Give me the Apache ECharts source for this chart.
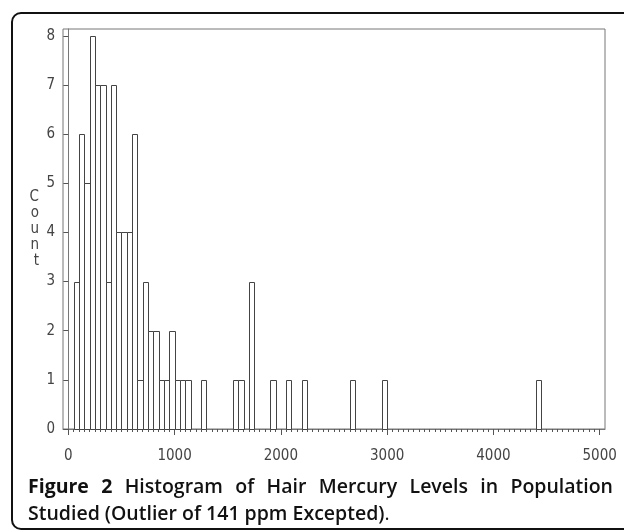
<!DOCTYPE html>
<html>
<head>
<meta charset="utf-8">
<script src="https://cdn.jsdelivr.net/npm/echarts@6/dist/echarts.min.js"></script>
<style>
  html, body { margin: 0; padding: 0; background: #fff; }
  #main { width: 624px; height: 531px; }
</style>
</head>
<body>
<div id="main"></div>
<script>
// bin lower edges, every bin is 50 wide
var BIN_WIDTH = 50;
var binStarts = [50, 100, 150, 200, 250, 300, 350, 400, 450, 500, 550,
                 600, 650, 700, 750, 800, 850, 900, 950, 1000, 1050, 1100,
                 1250, 1550, 1600, 1700, 1900, 2050, 2200, 2650, 2950, 4400];
var counts = [3, 6, 5, 8, 7, 7, 3, 7, 4, 4, 4,
              6, 1, 3, 2, 2, 1, 1, 2, 1, 1, 1,
              1, 1, 1, 3, 1, 1, 1, 1, 1, 1];
var xTickLabels = [0, 1000, 2000, 3000, 4000, 5000];
var yTickLabels = [0, 1, 2, 3, 4, 5, 6, 7, 8];

var captionLine1 = ['Figure', '2', 'Histogram', 'of', 'Hair', 'Mercury', 'Levels', 'in', 'Population'];
var captionLine2 = 'Studied (Outlier of 141 ppm Excepted)';

var TICK_FONT = '"Liberation Sans Narrow", "DejaVu Sans Condensed", sans-serif';
var CAP_FONT = '"Open Sans", "Noto Sans", sans-serif';

// minor ticks every bin
var minorTicks = [];
for (var v = 0; v <= 5000; v += BIN_WIDTH) minorTicks.push(v);

var histData = binStarts.map(function (s, i) { return [s, counts[i]]; });

var myChart = echarts.init(document.getElementById('main'));

// justified first caption line: measure words, spread the gaps
var measure = document.createElement('canvas').getContext('2d');
var capLeft = 28, capRight = 613, capSize = 19.5;
var wordFont = function (i) { return (i < 2 ? '700 ' : '600 ') + capSize + 'px ' + CAP_FONT; };
var widths = captionLine1.map(function (w, i) {
    measure.font = wordFont(i);
    return measure.measureText(w).width;
});
var total = widths.reduce(function (a, b) { return a + b; }, 0);
var gap = (capRight - capLeft - total) / (captionLine1.length - 1);
var captionEls = [];
var cx = capLeft;
captionLine1.forEach(function (w, i) {
    captionEls.push({
        type: 'text', left: cx, top: 477,
        style: { text: w, font: wordFont(i), fill: '#111' }
    });
    cx += widths[i] + gap;
});
captionEls.push({
    type: 'text', left: capLeft, top: 504,
    style: {
        text: '{b|' + captionLine2 + '}{r|.}',
        rich: {
            b: { font: '600 ' + capSize + 'px ' + CAP_FONT, fill: '#111' },
            r: { font: '400 ' + capSize + 'px ' + CAP_FONT, fill: '#111' }
        }
    }
});

var plainNum = function (val) { return String(val); };

myChart.setOption({
    animation: false,
    backgroundColor: '#fff',
    grid: {
        left: 63, right: 19, top: 29, bottom: 102,
        show: true, borderColor: '#777', borderWidth: 1
    },
    xAxis: [{
        type: 'value', min: -50, max: 5050,
        axisLine: { show: true, lineStyle: { color: '#777', width: 1 } },
        axisTick: { show: true, customValues: xTickLabels, length: 6, lineStyle: { color: '#555' } },
        axisLabel: { customValues: xTickLabels, formatter: plainNum, margin: 20, color: '#444', fontFamily: TICK_FONT, fontSize: 15 },
        splitLine: { show: false }
    }, {
        type: 'value', min: -50, max: 5050, position: 'bottom',
        axisLine: { show: false },
        axisTick: { show: true, customValues: minorTicks, length: 3, lineStyle: { color: '#555' } },
        axisLabel: { show: false },
        splitLine: { show: false }
    }],
    yAxis: {
        type: 'value', min: 0, max: 8.14,
        name: 'C\no\nu\nn\nt',
        nameLocation: 'middle', nameRotate: 0, nameGap: 24,
        nameTextStyle: { color: '#444', fontFamily: TICK_FONT, fontSize: 15, lineHeight: 16 },
        axisLine: { show: true, lineStyle: { color: '#777', width: 1 } },
        axisTick: { show: true, customValues: yTickLabels, length: 5, lineStyle: { color: '#555' } },
        axisLabel: { customValues: yTickLabels, formatter: plainNum, margin: 8, color: '#444', fontFamily: TICK_FONT, fontSize: 15 },
        splitLine: { show: false }
    },
    graphic: [{
        type: 'rect',
        shape: { x: 12, y: 13, width: 700, height: 516, r: 9 },
        style: { fill: null, stroke: '#111', lineWidth: 2 },
        silent: true
    }].concat(captionEls),
    series: [{
        type: 'custom',
        xAxisIndex: 0,
        data: histData,
        renderItem: function (params, api) {
            var start = api.value(0);
            var top = api.coord([start, api.value(1)]);
            var bottom = api.coord([start + BIN_WIDTH, 0]);
            var x0 = Math.round(top[0]) + 0.5, x1 = Math.round(bottom[0]) + 0.5;
            var y0 = Math.round(top[1]) + 0.5, y1 = Math.round(bottom[1]) + 0.5;
            return {
                type: 'rect',
                shape: { x: x0, y: y0, width: x1 - x0, height: y1 - y0 },
                style: { fill: '#fff', stroke: '#444', lineWidth: 1 }
            };
        }
    }]
});
</script>
</body>
</html>
